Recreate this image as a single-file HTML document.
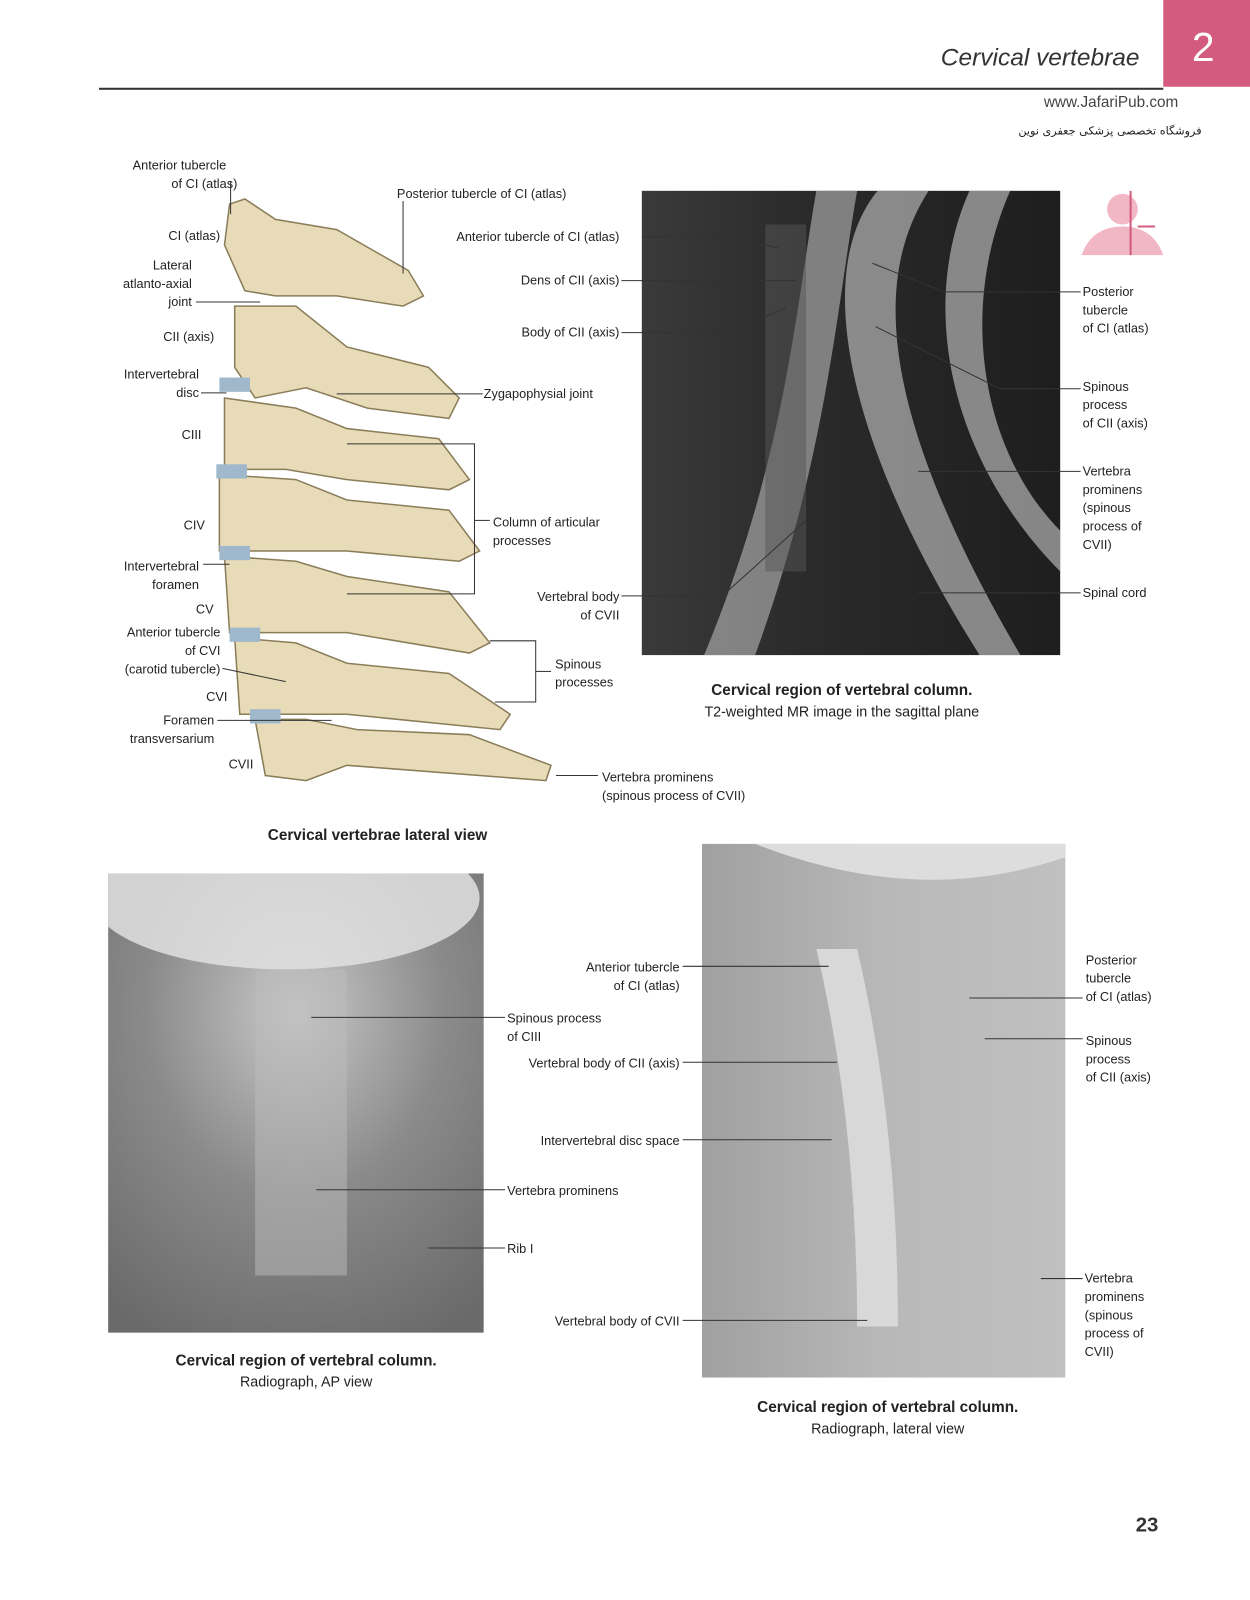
<!DOCTYPE html>
<html><head><meta charset="utf-8"><style>
html,body{margin:0;padding:0;background:#fff;width:1250px;height:1600px;overflow:hidden}
#w{position:absolute;left:0;top:0;width:1225px;height:1568px;transform:scale(1.0204);transform-origin:0 0;font-family:"Liberation Sans",sans-serif;color:#222}
.t{position:absolute;font-size:12.5px;line-height:18px;white-space:nowrap}
.r{text-align:right}
.c{position:absolute;text-align:center;white-space:nowrap}
</style></head><body><div id="w">
<div style="position:absolute;left:1140px;top:0;width:85px;height:85px;background:#d25b7f"></div>
<div class="t" style="left:1168px;top:22px;font-size:40px;line-height:50px;color:#fff">2</div>
<div class="t" style="left:922px;top:42px;font-size:24px;line-height:30px;font-style:italic;color:#333">Cervical vertebrae</div>
<div style="position:absolute;left:97px;top:86px;width:1043px;height:2px;background:#333"></div>
<div class="t" style="left:1023px;top:92px;font-size:15px;color:#444">www.JafariPub.com</div>
<div class="t" style="left:998px;top:120px;font-size:11px;font-family:'DejaVu Sans',sans-serif">فروشگاه تخصصی پزشکی جعفری نوین</div>

<svg style="position:absolute;left:0;top:0" width="1225" height="1568">
<defs>
<linearGradient id="mri" x1="0" x2="1"><stop offset="0" stop-color="#3a3a3a"/><stop offset=".4" stop-color="#2a2a2a"/><stop offset="1" stop-color="#1e1e1e"/></linearGradient>
<radialGradient id="ap" cx=".5" cy=".3" r=".8"><stop offset="0" stop-color="#c8c8c8"/><stop offset=".5" stop-color="#8a8a8a"/><stop offset="1" stop-color="#6a6a6a"/></radialGradient>
<linearGradient id="lat" x1="0" x2="1"><stop offset="0" stop-color="#a0a0a0"/><stop offset=".5" stop-color="#b8b8b8"/><stop offset="1" stop-color="#c0c0c0"/></linearGradient>
<clipPath id="apc"><rect x="106" y="856" width="368" height="450"/></clipPath>
<clipPath id="latc"><rect x="688" y="827" width="356" height="523"/></clipPath>
</defs>
<rect x="629" y="187" width="410" height="455" fill="url(#mri)"/>
<path d="M800 187 C780 300 770 450 690 642 L740 642 C810 450 820 300 840 187Z" fill="#bbb" opacity=".6"/>
<path d="M860 187 C800 260 820 420 960 642 L1000 642 C870 420 850 280 910 187Z" fill="#ddd" opacity=".55"/>
<path d="M950 187 C900 300 930 450 1039 560 L1039 520 C960 440 940 300 990 187Z" fill="#eee" opacity=".5"/>
<rect x="750" y="220" width="40" height="340" fill="#555" opacity=".5"/>
<circle cx="1100" cy="205" r="15" fill="#f2b7c4"/><path d="M1060 250 Q1070 222 1100 222 Q1130 222 1140 250Z" fill="#f2b7c4"/>
<line x1="1108" y1="187" x2="1108" y2="250" stroke="#d25b7f" stroke-width="2"/>
<line x1="1115" y1="222" x2="1132" y2="222" stroke="#d25b7f" stroke-width="2"/>
<rect x="106" y="856" width="368" height="450" fill="url(#ap)"/>
<g clip-path="url(#apc)">
<ellipse cx="280" cy="880" rx="190" ry="70" fill="#e0e0e0" opacity=".85"/>
<rect x="250" y="950" width="90" height="300" fill="#bbb" opacity=".5"/>
</g>
<rect x="688" y="827" width="356" height="523" fill="url(#lat)"/>
<g clip-path="url(#latc)">
<path d="M740 827 Q900 890 1044 840 L1044 827Z" fill="#ddd"/>
<path d="M800 930 Q840 1100 840 1300 L880 1300 Q880 1100 840 930Z" fill="#d8d8d8"/>
</g>
<g fill="#e8dcb8" stroke="#8a7d5a" stroke-width="1.5">
<path d="M225 200 L240 195 L270 215 L330 225 L400 265 L415 290 L395 300 L330 290 L270 290 L240 285 L220 240Z"/>
<path d="M230 300 L290 300 L340 340 L420 360 L450 390 L440 410 L360 400 L300 380 L250 390 L230 360Z"/>
<path d="M220 390 L290 400 L340 420 L430 430 L460 470 L440 480 L340 470 L280 460 L220 460Z"/>
<path d="M215 465 L290 470 L340 490 L440 500 L470 540 L450 550 L340 540 L280 540 L215 540Z"/>
<path d="M220 545 L290 550 L340 565 L440 580 L480 630 L460 640 L340 620 L280 620 L225 620Z"/>
<path d="M230 625 L290 630 L340 650 L440 660 L500 700 L490 715 L340 700 L280 700 L235 700Z"/>
<path d="M250 705 L300 705 L350 715 L460 720 L540 750 L535 765 L340 750 L300 765 L260 760Z"/>
</g>
<g fill="#9fb8cc"><rect x="215" y="370" width="30" height="14"/><rect x="212" y="455" width="30" height="14"/><rect x="215" y="535" width="30" height="14"/><rect x="225" y="615" width="30" height="14"/><rect x="245" y="695" width="30" height="14"/></g>
<g stroke="#333" stroke-width="1" fill="none">
<path d="M629 232 H712 L763 243"/><path d="M609 275 H780"/><path d="M609 326 H710 L770 302"/>
<path d="M609 584 H708 L790 510"/>
<path d="M1059 286 H925 L855 258"/><path d="M1059 381 H980 L858 320"/><path d="M1059 462 H900"/><path d="M1059 581 H900"/>
<path d="M226 178 V210"/><path d="M395 197 V268"/><path d="M192 296 H255"/><path d="M197 385 H222"/>
<path d="M473 386 H330"/><path d="M340 435 H465 V582 H340"/><path d="M465 510 H480"/>
<path d="M199 553 H225"/><path d="M218 655 L280 668"/><path d="M213 706 H325"/>
<path d="M480 628 H525 V688 H485"/><path d="M525 658 H540"/><path d="M545 760 H586"/>
<path d="M495 997 H305"/><path d="M495 1166 H310"/><path d="M495 1223 H420"/>
<path d="M669 947 H812"/><path d="M669 1041 H820"/><path d="M669 1117 H815"/><path d="M669 1294 H850"/>
<path d="M1061 978 H950"/><path d="M1061 1018 H965"/><path d="M1061 1253 H1020"/>
</g>
</svg>

<div class="t" style="left:130px;top:153px">Anterior tubercle</div>
<div class="t" style="left:168px;top:171px">of CI (atlas)</div>
<div class="t" style="left:389px;top:181px">Posterior tubercle of CI (atlas)</div>
<div class="t" style="left:165px;top:222px">CI (atlas)</div>
<div class="t r" style="left:100px;top:251px;width:88px">Lateral<br>atlanto-axial<br>joint</div>
<div class="t" style="left:160px;top:321px">CII (axis)</div>
<div class="t r" style="left:95px;top:358px;width:100px">Intervertebral<br>disc</div>
<div class="t" style="left:178px;top:417px">CIII</div>
<div class="t" style="left:180px;top:506px">CIV</div>
<div class="t r" style="left:95px;top:546px;width:100px">Intervertebral<br>foramen</div>
<div class="t" style="left:192px;top:588px">CV</div>
<div class="t r" style="left:95px;top:611px;width:121px">Anterior tubercle<br>of CVI<br>(carotid tubercle)</div>
<div class="t" style="left:202px;top:674px">CVI</div>
<div class="t r" style="left:100px;top:697px;width:110px">Foramen<br>transversarium</div>
<div class="t" style="left:224px;top:740px">CVII</div>
<div class="t" style="left:474px;top:377px">Zygapophysial joint</div>
<div class="t" style="left:483px;top:503px">Column of articular<br>processes</div>
<div class="t" style="left:544px;top:642px">Spinous<br>processes</div>
<div class="t" style="left:590px;top:753px">Vertebra prominens<br>(spinous process of CVII)</div>
<div class="c" style="left:250px;top:810px;font-size:15px;font-weight:bold;width:240px">Cervical vertebrae lateral view</div>

<div class="t r" style="left:400px;top:223px;width:207px">Anterior tubercle of CI (atlas)</div>
<div class="t r" style="left:440px;top:266px;width:167px">Dens of CII (axis)</div>
<div class="t r" style="left:440px;top:317px;width:167px">Body of CII (axis)</div>
<div class="t r" style="left:480px;top:576px;width:127px">Vertebral body<br>of CVII</div>
<div class="t" style="left:1061px;top:277px">Posterior<br>tubercle<br>of CI (atlas)</div>
<div class="t" style="left:1061px;top:370px">Spinous<br>process<br>of CII (axis)</div>
<div class="t" style="left:1061px;top:453px">Vertebra<br>prominens<br>(spinous<br>process of<br>CVII)</div>
<div class="t" style="left:1061px;top:572px">Spinal cord</div>
<div class="c" style="left:635px;top:668px;width:380px;font-size:15px;font-weight:bold">Cervical region of vertebral column.</div>
<div class="c" style="left:635px;top:689px;width:380px;font-size:14px">T2-weighted MR image in the sagittal plane</div>

<div class="t" style="left:497px;top:989px">Spinous process<br>of CIII</div>
<div class="t" style="left:497px;top:1158px">Vertebra prominens</div>
<div class="t" style="left:497px;top:1215px">Rib I</div>
<div class="c" style="left:110px;top:1325px;width:380px;font-size:15px;font-weight:bold">Cervical region of vertebral column.</div>
<div class="c" style="left:110px;top:1346px;width:380px;font-size:14px">Radiograph, AP view</div>

<div class="t r" style="left:500px;top:939px;width:166px">Anterior tubercle<br>of CI (atlas)</div>
<div class="t r" style="left:460px;top:1033px;width:206px">Vertebral body of CII (axis)</div>
<div class="t r" style="left:460px;top:1109px;width:206px">Intervertebral disc space</div>
<div class="t r" style="left:460px;top:1286px;width:206px">Vertebral body of CVII</div>
<div class="t" style="left:1064px;top:932px">Posterior<br>tubercle<br>of CI (atlas)</div>
<div class="t" style="left:1064px;top:1011px">Spinous<br>process<br>of CII (axis)</div>
<div class="t" style="left:1063px;top:1244px">Vertebra<br>prominens<br>(spinous<br>process of<br>CVII)</div>
<div class="c" style="left:680px;top:1371px;width:380px;font-size:15px;font-weight:bold">Cervical region of vertebral column.</div>
<div class="c" style="left:680px;top:1392px;width:380px;font-size:14px">Radiograph, lateral view</div>

<div class="t" style="left:1113px;top:1483px;font-size:20px;line-height:24px;font-weight:bold;color:#333">23</div>
</div></body></html>
